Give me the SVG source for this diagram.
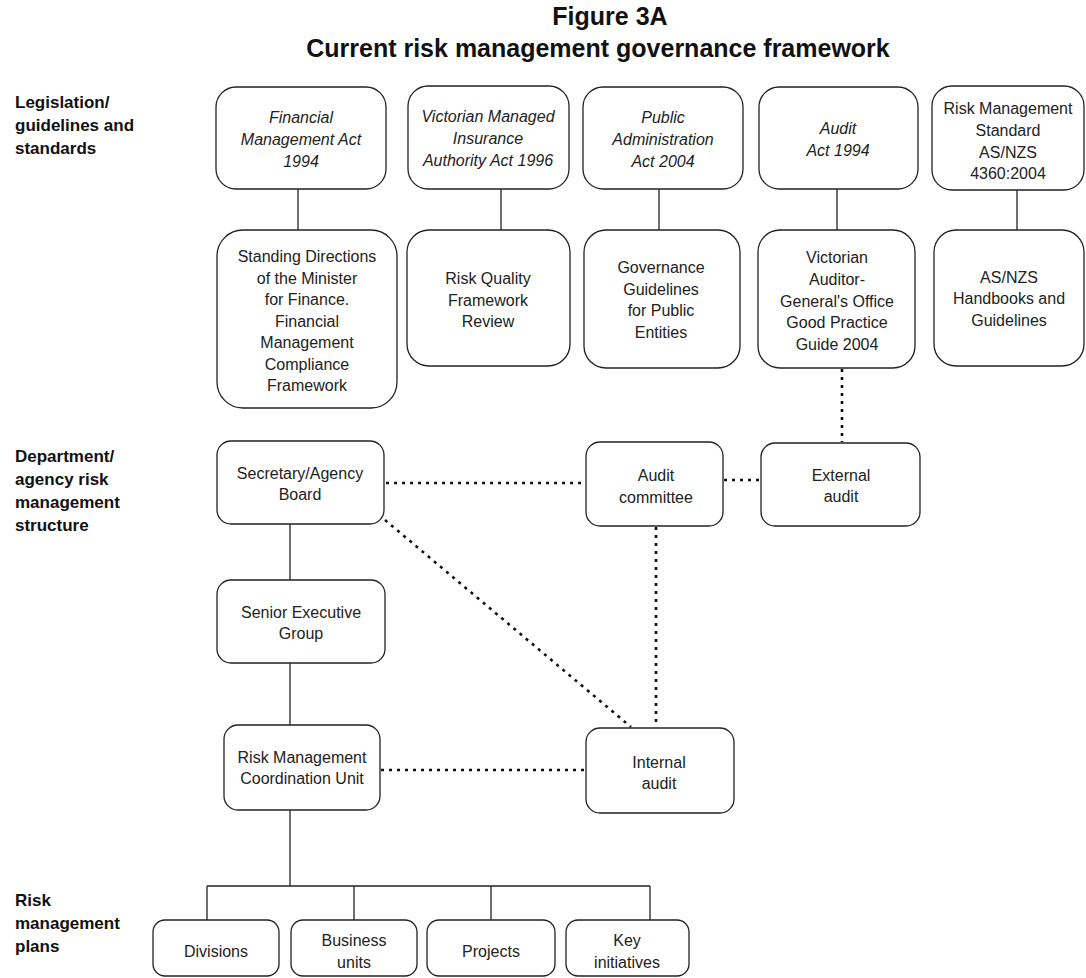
<svg xmlns="http://www.w3.org/2000/svg" width="1086" height="978" viewBox="0 0 1086 978">
<style>
  .box { fill: #ffffff; stroke: #222222; stroke-width: 1.3; }
  .t { font-family: "Liberation Sans", Arial, sans-serif; font-size: 16px; fill: #222222; text-anchor: middle; }
  .i { font-style: italic; }
  .lbl { font-family: "Liberation Sans", Arial, sans-serif; font-size: 17px; font-weight: bold; fill: #111111; }
  .title { font-family: "Liberation Sans", Arial, sans-serif; font-size: 25px; font-weight: bold; fill: #111111; text-anchor: middle; }
  .solid { stroke: #222222; stroke-width: 1.3; fill: none; }
  .dot { stroke: #111111; stroke-width: 2.6; fill: none; stroke-dasharray: 3 5; }
</style>
<rect width="1086" height="978" fill="#ffffff"/>

<g id="title">
  <text class="title" x="610" y="25">Figure 3A</text>
  <text class="title" x="598" y="57">Current risk management governance framework</text>
</g>

<g id="row-labels">
  <text class="lbl" x="15" y="108">Legislation/</text>
  <text class="lbl" x="15" y="131">guidelines and</text>
  <text class="lbl" x="15" y="154">standards</text>
  <text class="lbl" x="15" y="462">Department/</text>
  <text class="lbl" x="15" y="485">agency risk</text>
  <text class="lbl" x="15" y="508">management</text>
  <text class="lbl" x="15" y="531">structure</text>
  <text class="lbl" x="15" y="906">Risk</text>
  <text class="lbl" x="15" y="929">management</text>
  <text class="lbl" x="15" y="952">plans</text>
</g>

<g id="connectors">
  <line class="solid" x1="298" y1="189" x2="298" y2="230"/>
  <line class="solid" x1="501" y1="189" x2="501" y2="230"/>
  <line class="solid" x1="659" y1="189" x2="659" y2="230"/>
  <line class="solid" x1="837" y1="189" x2="837" y2="230"/>
  <line class="solid" x1="1017" y1="189" x2="1017" y2="230"/>
  <line class="dot" x1="842" y1="369" x2="842" y2="442"/>
  <line class="dot" x1="386" y1="483" x2="586" y2="483"/>
  <line class="dot" x1="724" y1="480" x2="761" y2="480"/>
  <line class="dot" x1="385" y1="520" x2="631" y2="727"/>
  <line class="dot" x1="656" y1="527" x2="656" y2="727"/>
  <line class="dot" x1="381" y1="770" x2="586" y2="770"/>
  <line class="solid" x1="290" y1="524" x2="290" y2="580"/>
  <line class="solid" x1="290" y1="663" x2="290" y2="725"/>
  <line class="solid" x1="290" y1="810" x2="290" y2="886"/>
  <line class="solid" x1="207" y1="886" x2="650" y2="886"/>
  <line class="solid" x1="207" y1="886" x2="207" y2="920"/>
  <line class="solid" x1="354" y1="886" x2="354" y2="920"/>
  <line class="solid" x1="491" y1="886" x2="491" y2="920"/>
  <line class="solid" x1="650" y1="886" x2="650" y2="920"/>
</g>

<g id="fma">
  <rect class="box" x="216" y="87" width="170" height="102" rx="20"/>
  <text class="t i" x="301" y="123">Financial</text>
  <text class="t i" x="301" y="145">Management Act</text>
  <text class="t i" x="301" y="167">1994</text>
</g>
<g id="vmia">
  <rect class="box" x="408" y="86" width="161" height="103" rx="20"/>
  <text class="t i" x="488" y="122">Victorian Managed</text>
  <text class="t i" x="488" y="144">Insurance</text>
  <text class="t i" x="488" y="166">Authority Act 1996</text>
</g>
<g id="paa">
  <rect class="box" x="583" y="87" width="160" height="102" rx="20"/>
  <text class="t i" x="663" y="123">Public</text>
  <text class="t i" x="663" y="145">Administration</text>
  <text class="t i" x="663" y="167">Act 2004</text>
</g>
<g id="aa">
  <rect class="box" x="759" y="87" width="159" height="102" rx="20"/>
  <text class="t i" x="838" y="134">Audit</text>
  <text class="t i" x="838" y="156">Act 1994</text>
</g>
<g id="rms">
  <rect class="box" x="932" y="86" width="152" height="104" rx="20"/>
  <text class="t" x="1008" y="114">Risk Management</text>
  <text class="t" x="1008" y="136">Standard</text>
  <text class="t" x="1008" y="158">AS/NZS</text>
  <text class="t" x="1008" y="179">4360:2004</text>
</g>

<g id="sd">
  <rect class="box" x="217" y="230" width="180" height="178" rx="26"/>
  <text class="t" x="307" y="262">Standing Directions</text>
  <text class="t" x="307" y="284">of the Minister</text>
  <text class="t" x="307" y="305">for Finance.</text>
  <text class="t" x="307" y="327">Financial</text>
  <text class="t" x="307" y="348">Management</text>
  <text class="t" x="307" y="370">Compliance</text>
  <text class="t" x="307" y="391">Framework</text>
</g>
<g id="rqf">
  <rect class="box" x="407" y="230" width="163" height="136" rx="22"/>
  <text class="t" x="488" y="284">Risk Quality</text>
  <text class="t" x="488" y="306">Framework</text>
  <text class="t" x="488" y="327">Review</text>
</g>
<g id="gg">
  <rect class="box" x="584" y="230" width="156" height="138" rx="22"/>
  <text class="t" x="661" y="273">Governance</text>
  <text class="t" x="661" y="295">Guidelines</text>
  <text class="t" x="661" y="316">for Public</text>
  <text class="t" x="661" y="338">Entities</text>
</g>
<g id="vago">
  <rect class="box" x="758" y="230" width="157" height="138" rx="22"/>
  <text class="t" x="837" y="263">Victorian</text>
  <text class="t" x="837" y="285">Auditor-</text>
  <text class="t" x="837" y="307">General's Office</text>
  <text class="t" x="837" y="328">Good Practice</text>
  <text class="t" x="837" y="350">Guide 2004</text>
</g>
<g id="asnzs">
  <rect class="box" x="934" y="230" width="150" height="136" rx="22"/>
  <text class="t" x="1009" y="283">AS/NZS</text>
  <text class="t" x="1009" y="304">Handbooks and</text>
  <text class="t" x="1009" y="326">Guidelines</text>
</g>

<g id="secretary">
  <rect class="box" x="217" y="441" width="167" height="83" rx="14"/>
  <text class="t" x="300" y="479">Secretary/Agency</text>
  <text class="t" x="300" y="500">Board</text>
</g>
<g id="seg">
  <rect class="box" x="217" y="580" width="168" height="83" rx="14"/>
  <text class="t" x="301" y="618">Senior Executive</text>
  <text class="t" x="301" y="639">Group</text>
</g>
<g id="rmcu">
  <rect class="box" x="224" y="725" width="156" height="85" rx="14"/>
  <text class="t" x="302" y="763">Risk Management</text>
  <text class="t" x="302" y="784">Coordination Unit</text>
</g>
<g id="audit-committee">
  <rect class="box" x="586" y="442" width="137" height="84" rx="14"/>
  <text class="t" x="656" y="481">Audit</text>
  <text class="t" x="656" y="503">committee</text>
</g>
<g id="external-audit">
  <rect class="box" x="761" y="443" width="159" height="83" rx="14"/>
  <text class="t" x="841" y="481">External</text>
  <text class="t" x="841" y="502">audit</text>
</g>
<g id="internal-audit">
  <rect class="box" x="586" y="728" width="148" height="85" rx="14"/>
  <text class="t" x="659" y="768">Internal</text>
  <text class="t" x="659" y="789">audit</text>
</g>

<g id="divisions">
  <rect class="box" x="153" y="920" width="126" height="56" rx="12"/>
  <text class="t" x="216" y="957">Divisions</text>
</g>
<g id="business-units">
  <rect class="box" x="291" y="920" width="126" height="56" rx="12"/>
  <text class="t" x="354" y="946">Business</text>
  <text class="t" x="354" y="968">units</text>
</g>
<g id="projects">
  <rect class="box" x="427" y="920" width="128" height="56" rx="12"/>
  <text class="t" x="491" y="957">Projects</text>
</g>
<g id="key-initiatives">
  <rect class="box" x="566" y="920" width="123" height="56" rx="12"/>
  <text class="t" x="627" y="946">Key</text>
  <text class="t" x="627" y="968">initiatives</text>
</g>
</svg>
